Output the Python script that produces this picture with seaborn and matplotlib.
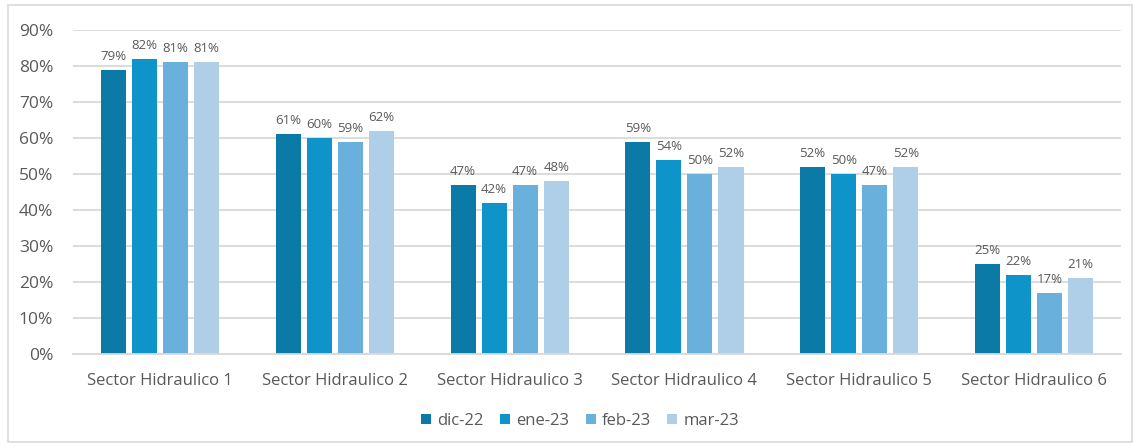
import matplotlib
matplotlib.use("Agg")
import matplotlib.pyplot as plt
import seaborn as sns
import pandas as pd
from matplotlib.patches import Rectangle

# --------------------------------------------------------------------------- #
# Data
# --------------------------------------------------------------------------- #
SECTORS = [f"Sector Hidraulico {i}" for i in range(1, 7)]
MONTHS = ["dic-22", "ene-23", "feb-23", "mar-23"]
DIC_22 = [79, 61, 47, 59, 52, 25]
ENE_23 = [82, 60, 42, 54, 50, 22]
FEB_23 = [81, 59, 47, 50, 47, 17]
MAR_23 = [81, 62, 48, 52, 52, 21]
Y_TICKS = list(range(0, 91, 10))

COLORS = ["#0B7AA6", "#0E94C8", "#6AB0DC", "#AFCFE8"]
TEXT_GREY = "#595959"

df = pd.DataFrame({
    "sector": SECTORS * 4,
    "month": sum([[m] * len(SECTORS) for m in MONTHS], []),
    "value": DIC_22 + ENE_23 + FEB_23 + MAR_23,
})

sns.set_theme(style="white")
plt.rcParams["font.family"] = ["Open Sans", "DejaVu Sans"]

fig = plt.figure(figsize=(11.35, 4.47), dpi=100)
ax = fig.add_axes([0.064, 0.208, 0.924, 0.725])

sns.barplot(
    data=df, x="sector", y="value", hue="month", hue_order=MONTHS,
    palette=COLORS, width=0.71, gap=0.19, ax=ax, legend=True,
    saturation=1, linewidth=0,
)

# value labels on top of each bar
for cont in ax.containers:
    ax.bar_label(cont, labels=[f"{v:.0f}%" for v in cont.datavalues],
                 padding=5, fontsize=9.5, color=TEXT_GREY)

ax.set_ylim(0, 90)
ax.set_xlim(-0.5, 5.5)
ax.set_yticks(Y_TICKS)
ax.set_yticklabels([f"{t}%" for t in Y_TICKS])
ax.yaxis.grid(True, color="#D9D9D9", linewidth=1.3)
ax.set_axisbelow(True)
ax.set_xlabel("")
ax.set_ylabel("")
ax.tick_params(axis="both", colors=TEXT_GREY, labelsize=12.5, length=0)
ax.tick_params(axis="x", labelsize=12, pad=14)
ax.tick_params(axis="y", pad=14)
for side in ["top", "right", "left"]:
    ax.spines[side].set_visible(False)
ax.spines["bottom"].set_color("#D9D9D9")
ax.spines["bottom"].set_linewidth(1.3)

handles, labels = ax.get_legend_handles_labels()
ax.legend_.remove()
fig.legend(handles, labels, loc="center", bbox_to_anchor=(0.511, 0.058),
           ncol=4, frameon=False, fontsize=12, labelcolor=TEXT_GREY,
           handlelength=0.6, handleheight=0.6, handletextpad=0.35,
           columnspacing=1.0)

# light frame around the chart
fig.patches.append(Rectangle((0.007, 0.012), 0.99, 0.976, transform=fig.transFigure,
                             fill=False, edgecolor="#D9D9D9", linewidth=1.2))

fig.savefig("out.png", dpi=100)
plt.close(fig)
